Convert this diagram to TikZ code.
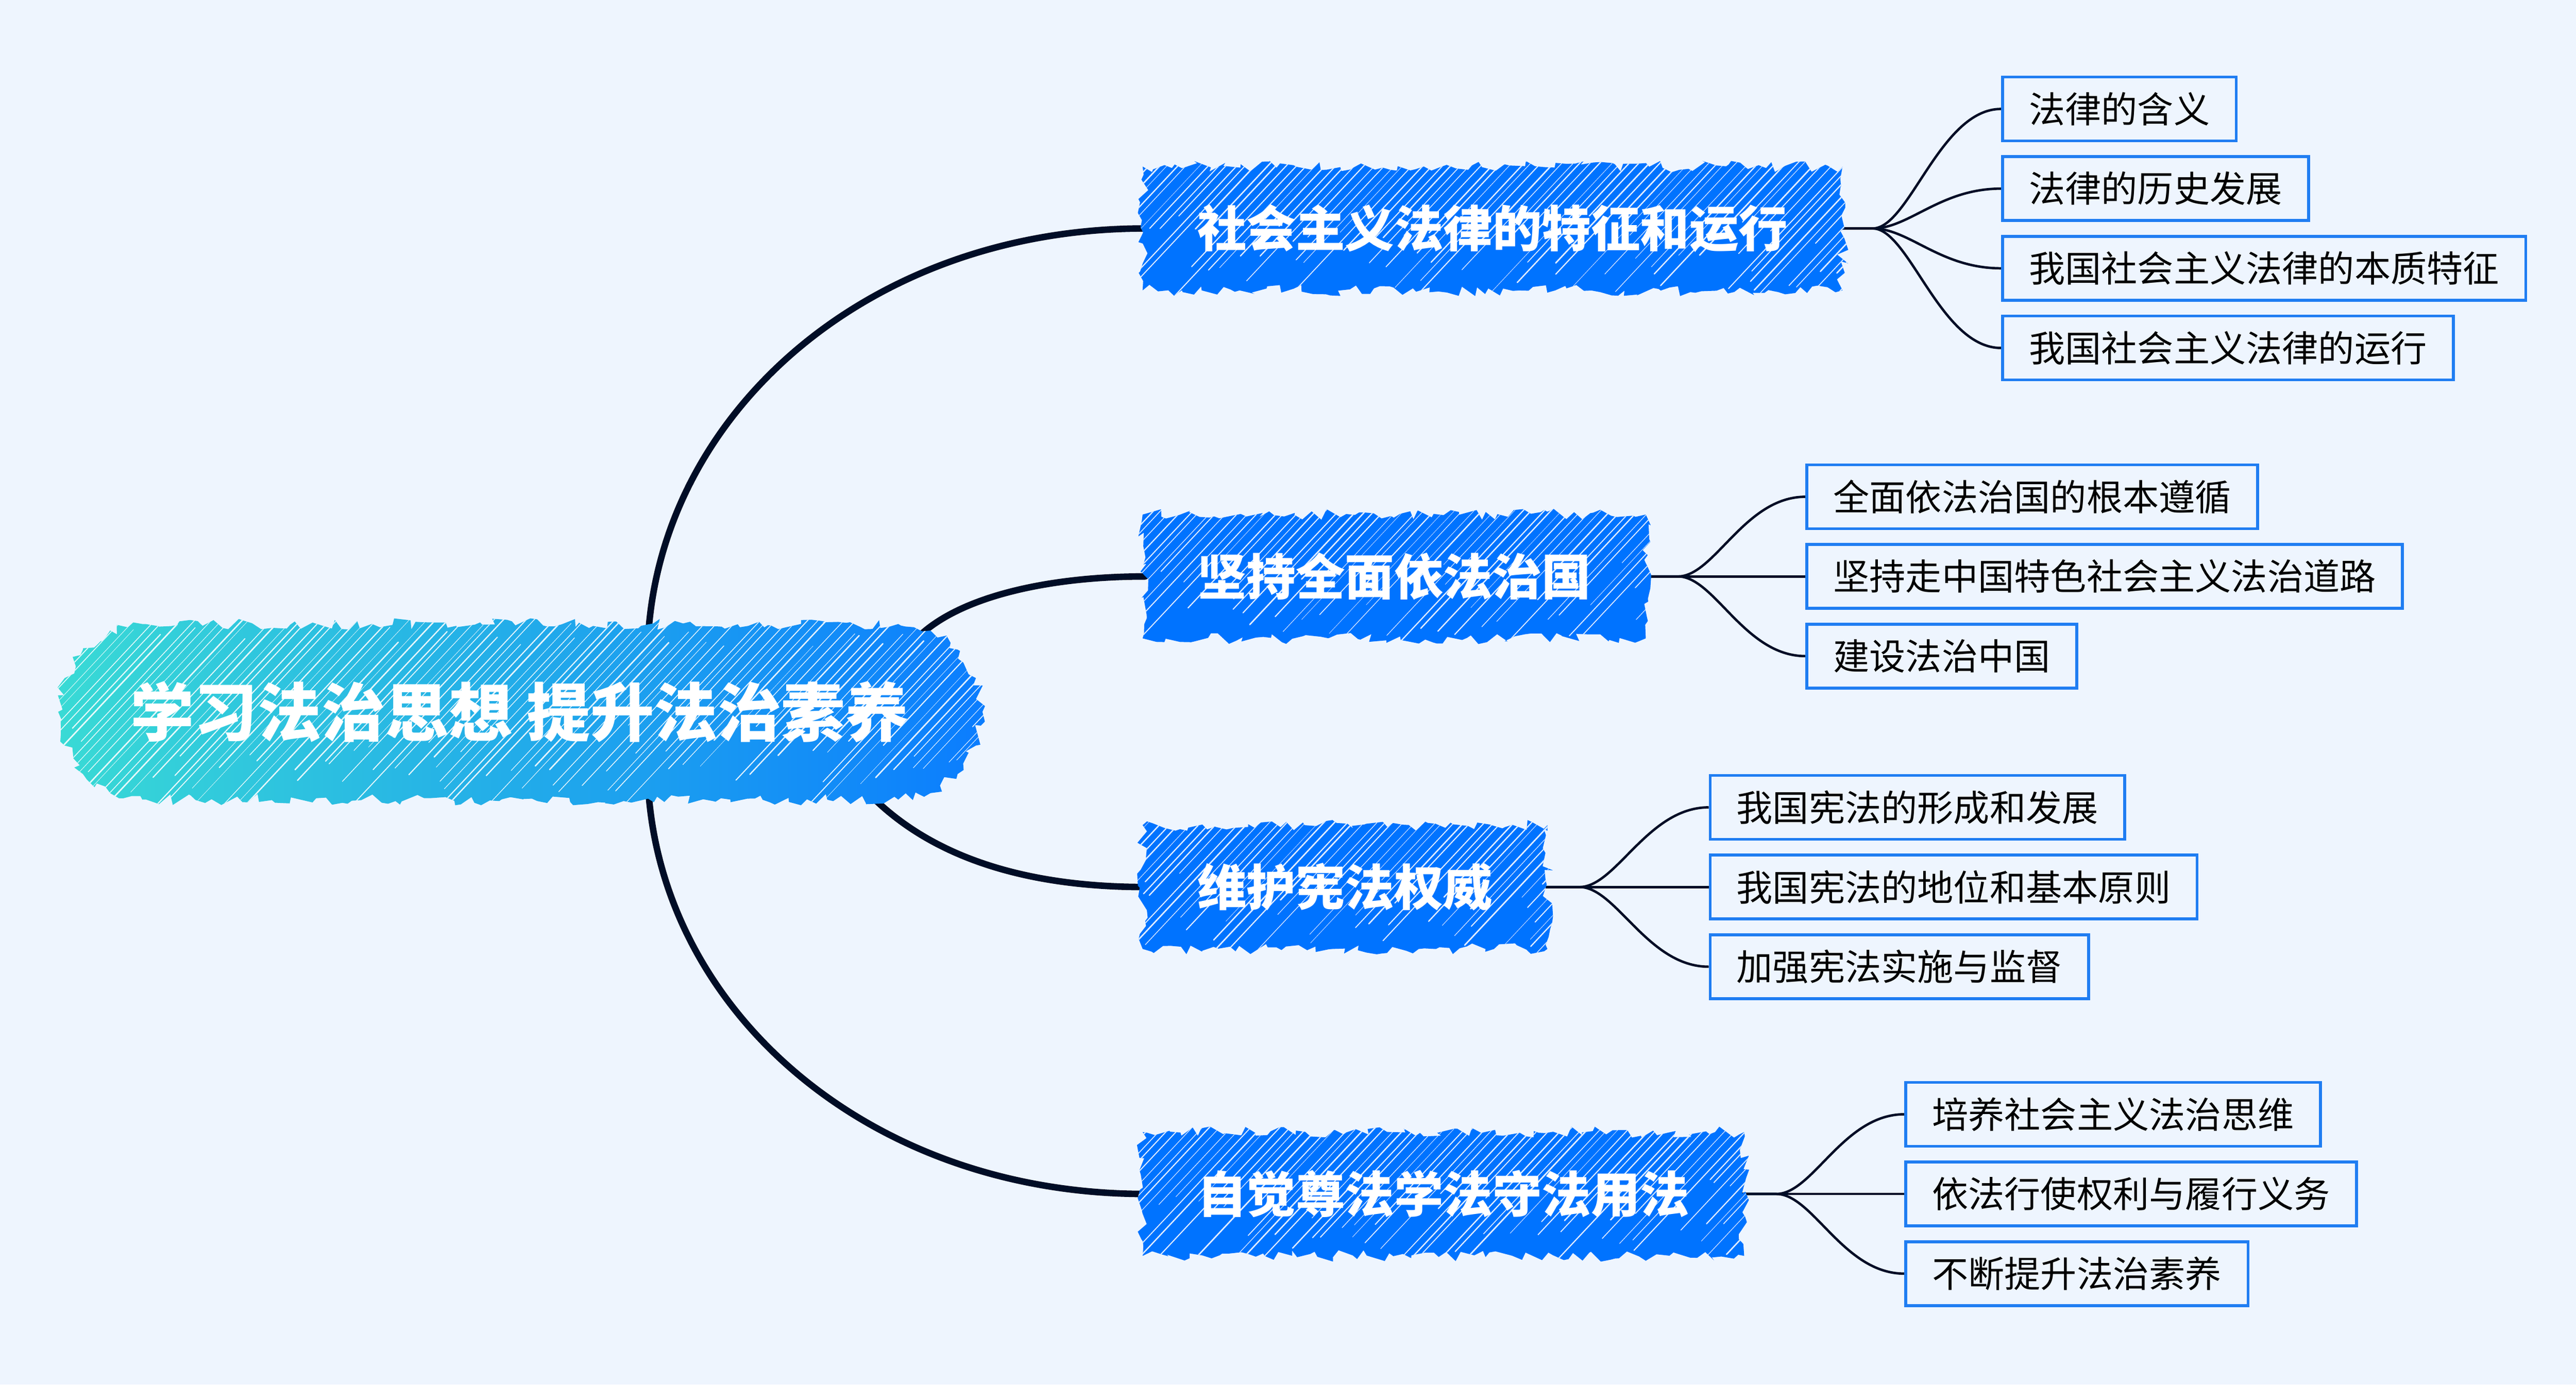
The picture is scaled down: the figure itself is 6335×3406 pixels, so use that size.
\documentclass[tikz,border=0pt]{standalone}
\usepackage{fontspec}
\newfontfamily\cjk{Noto Sans CJK SC}
\usetikzlibrary{decorations.pathmorphing,calc}
\definecolor{bgcol}{HTML}{EEF5FE}
\definecolor{brblue}{HTML}{0073FF}
\definecolor{lfblue}{HTML}{1F7DF2}
\definecolor{navy}{HTML}{000D26}
\definecolor{rootL}{HTML}{3ADCD4}
\definecolor{rootR}{HTML}{0A7BFF}
\pgfdeclarelayer{bglayer}
\pgfdeclarelayer{hatchlayer}
\pgfsetlayers{bglayer,hatchlayer,main}
\tikzset{rough/.style={decorate, decoration={random steps,segment length=5pt,amplitude=4pt}}}
% white scribble strokes over a filled region (inside a clip)
% #1 node name, #2 number of strokes
\newcommand\scribble[2]{%
  \foreach \k in {0,...,#2}{%
    \pgfmathsetmacro\dx{\k*24+12*rnd-580}%
    \pgfmathsetmacro\ta{0.35*rnd}%
    \pgfmathsetmacro\tl{0.65+0.35*rnd-\ta}%
    \pgfmathsetmacro\lw{0.008+0.028*rnd}%
    \draw[white, opacity=0.88, line width=\lw cm, line cap=round]
      ([xshift=\dx*0.01cm, yshift=-0.4cm]#1.south west) ++(\ta*600,-\ta*640)
      -- ++(\tl*600,-\tl*640);
  }}
% #1 node name, #2 number of strokes
\newcommand\hatchbox[2]{%
  \begin{pgfonlayer}{hatchlayer}
  \begin{scope}
    \clip[rough] ([shift={(-6,6)}]#1.south west) rectangle ([shift={(6,-6)}]#1.north east);
    \fill[brblue] ([shift={(-40,40)}]#1.south west) rectangle ([shift={(40,-40)}]#1.north east);
    \scribble{#1}{#2}
  \end{scope}
  \end{pgfonlayer}}
\begin{document}
\begin{tikzpicture}[x=0.01cm,y=-0.01cm,
  mainline/.style={draw=navy, line width=0.16cm, line cap=round},
  leafline/.style={draw=navy, line width=0.06cm},
  rootnode/.style={minimum width=22.75cm, minimum height=4.32cm, inner sep=0pt,
    text=white, font=\cjk\bfseries\fontsize{44.5pt}{50pt}\selectfont},
  branchnode/.style={anchor=west, minimum height=2.91cm, inner xsep=1.28cm, inner ysep=0pt,
    text=white, font=\cjk\bfseries\fontsize{34.4pt}{40pt}\selectfont},
  leafnode/.style={anchor=west, draw=lfblue, line width=0.07cm, fill=bgcol,
    minimum height=1.57cm, inner xsep=0.65cm, inner ysep=0pt,
    text=black, font=\cjk\fontsize{25.3pt}{30pt}\selectfont},
]
\pgfmathsetseed{42}
\useasboundingbox (0,0) rectangle (6335,3406);
\begin{pgfonlayer}{bglayer}
  \fill[bgcol] (0,0) rectangle (6335,3406);
\end{pgfonlayer}

% root
\node[rootnode] (root) at (1278,1751) {学习法治思想 提升法治素养};
\begin{pgfonlayer}{hatchlayer}
\begin{scope}
  \clip[rough] (350,1535) -- (271,1551) -- (204,1598) -- (159,1668) -- (143,1751)
    -- (159,1834) -- (204,1904) -- (271,1951) -- (350,1967)
    -- (2209,1967) -- (2288,1951) -- (2355,1904) -- (2400,1834) -- (2416,1751)
    -- (2400,1668) -- (2355,1598) -- (2288,1551) -- (2209,1535) -- cycle;
  \shade[left color=rootL, right color=rootR] (100,1480) rectangle (2460,2020);
  \scribble{root}{122}
\end{scope}
\end{pgfonlayer}

% branches
\node[branchnode] (b1) at (2816,562) {社会主义法律的特征和运行};
\node[branchnode] (b2) at (2816,1418) {坚持全面依法治国};
\node[branchnode] (b3) at (2816,2182) {维护宪法权威};
\node[branchnode] (b4) at (2816,2937) {自觉尊法学法守法用法};
\hatchbox{b1}{98}
\hatchbox{b2}{78}
\hatchbox{b3}{68}
\hatchbox{b4}{88}

% leaves
\node[leafnode] (l11) at (4921,268) {法律的含义};
\node[leafnode] (l12) at (4921,464) {法律的历史发展};
\node[leafnode] (l13) at (4921,660) {我国社会主义法律的本质特征};
\node[leafnode] (l14) at (4921,856) {我国社会主义法律的运行};

\node[leafnode] (l21) at (4440,1222) {全面依法治国的根本遵循};
\node[leafnode] (l22) at (4440,1418) {坚持走中国特色社会主义法治道路};
\node[leafnode] (l23) at (4440,1614) {建设法治中国};

\node[leafnode] (l31) at (4202,1986) {我国宪法的形成和发展};
\node[leafnode] (l32) at (4202,2182) {我国宪法的地位和基本原则};
\node[leafnode] (l33) at (4202,2378) {加强宪法实施与监督};

\node[leafnode] (l41) at (4683,2741) {培养社会主义法治思维};
\node[leafnode] (l42) at (4683,2937) {依法行使权利与履行义务};
\node[leafnode] (l43) at (4683,3133) {不断提升法治素养};

% connector start points on the root
\coordinate (r1) at (1595,1552);
\coordinate (r2) at (2270,1556);
\coordinate (r3) at (2130,1945);
\coordinate (r4) at (1595,1950);
% stub ends
\coordinate (s1) at ([xshift=0.8cm]b1.east);
\coordinate (s2) at ([xshift=0.85cm]b2.east);
\coordinate (s3) at ([xshift=0.85cm]b3.east);
\coordinate (s4) at ([xshift=0.85cm]b4.east);

\begin{pgfonlayer}{bglayer}
  \draw[mainline] (r1) .. controls +(41,-544) and +(-675,0) .. (b1.west);
  \draw[mainline] (r2) .. controls +(110,-95) and +(-220,0) .. (b2.west);
  \draw[mainline] (r3) .. controls +(170,180) and +(-260,0) .. (b3.west);
  \draw[mainline] (r4) .. controls +(41,544) and +(-675,0) .. (b4.west);

  \foreach \b/\l in {1/l11,1/l12,1/l13,1/l14,2/l21,2/l22,2/l23,3/l31,3/l32,3/l33,4/l41,4/l42,4/l43}{
    \draw[leafline] (b\b.east) -- (s\b) .. controls +(90,0) and +(-150,0) .. (\l.west);
  }
\end{pgfonlayer}
\end{tikzpicture}
\end{document}
